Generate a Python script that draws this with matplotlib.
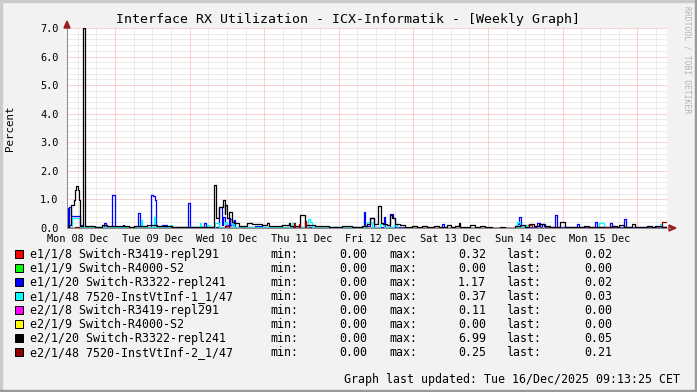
import matplotlib
matplotlib.use('Agg')
import matplotlib.pyplot as plt
from matplotlib.patches import Rectangle, Polygon
import numpy as np

# ---------------- data (hours since Mon 08 Dec 00:00) ----------------
T0, T1 = 8.55, 201.6

day_ticks = [24, 48, 72, 96, 120, 144, 168, 192]
label_pos = [12, 36, 60, 84, 108, 132, 156, 180]
day_labels = ["Mon 08 Dec", "Tue 09 Dec", "Wed 10 Dec", "Thu 11 Dec",
              "Fri 12 Dec", "Sat 13 Dec", "Sun 14 Dec", "Mon 15 Dec"]
y_ticks = [0, 1, 2, 3, 4, 5, 6, 7]
y_labels = ["0.0", "1.0", "2.0", "3.0", "4.0", "5.0", "6.0", "7.0"]

red_t = [8.55, 61.08, 61.73, 156.01, 158.16, 183.90, 184.54, 199.98]
red_v = [0.0, 0.32, 0.0, 0.10, 0.0, 0.08, 0.0, 0.02]

green_t = [8.55]
green_v = [0.0]

blue_t = [8.55, 8.78, 9.29, 9.84, 12.83, 13.70, 20.36, 21.19, 23.03, 24.0,
          26.57, 26.98, 31.39, 31.94, 35.57, 36.22, 36.76, 37.18, 39.11, 40.72,
          47.48, 48.22, 52.62, 53.17, 57.35, 58.41, 58.83, 59.38, 60.57, 61.08,
          62.18, 62.69, 64.20, 69.03, 71.28, 88.43, 89.94, 104.09, 104.51, 106.12,
          107.22, 110.44, 110.96, 112.56, 113.43, 114.17, 116.97, 129.21, 129.95, 153.34,
          154.08, 154.72, 159.77, 160.83, 161.38, 162.44, 165.66, 166.20, 172.64, 173.38,
          178.53, 179.07, 183.35, 183.90, 187.66, 188.40]
blue_v = [0.69, 0.05, 0.72, 0.42, 0.10, 0.03, 0.16, 0.03, 1.15, 0.03,
          0.10, 0.02, 0.53, 0.03, 1.17, 1.12, 0.98, 0.05, 0.10, 0.02,
          0.86, 0.02, 0.16, 0.03, 0.75, 0.10, 0.40, 0.10, 0.34, 0.10,
          0.28, 0.05, 0.02, 0.08, 0.03, 0.05, 0.02, 0.57, 0.08, 0.35,
          0.05, 0.40, 0.05, 0.48, 0.34, 0.05, 0.01, 0.14, 0.01, 0.13,
          0.40, 0.03, 0.16, 0.03, 0.13, 0.02, 0.45, 0.02, 0.13, 0.02,
          0.20, 0.03, 0.16, 0.03, 0.30, 0.02]

cyan_t = [8.55, 10.16, 12.31, 12.83, 13.70, 32.26, 32.68, 36.44, 36.96, 41.78,
          42.33, 51.24, 51.75, 53.59, 54.13, 56.26, 57.35, 59.28, 60.02, 61.63,
          62.18, 80.93, 81.48, 86.08, 86.82, 87.37, 105.06, 106.67, 109.34, 110.44,
          113.66, 114.72, 153.34, 154.40, 155.49, 156.55, 179.62, 181.23, 199.44, 199.98]
cyan_v = [0.02, 0.34, 0.36, 0.05, 0.02, 0.28, 0.02, 0.37, 0.03, 0.10,
          0.02, 0.16, 0.02, 0.10, 0.02, 0.16, 0.03, 0.22, 0.05, 0.18,
          0.02, 0.16, 0.03, 0.32, 0.22, 0.02, 0.20, 0.03, 0.13, 0.03,
          0.10, 0.01, 0.20, 0.05, 0.10, 0.01, 0.16, 0.01, 0.13, 0.03]

magenta_t = [8.55, 8.87, 9.52, 59.70, 60.18]
magenta_v = [0.0, 0.05, 0.0, 0.11, 0.0]

yellow_t = [8.55]
yellow_v = [0.0]

black_t = [8.55, 9.10, 9.84, 10.71, 11.22, 11.45, 12.09, 12.31, 12.64, 12.83,
           13.70, 14.34, 17.65, 19.81, 21.42, 25.70, 28.40, 30.01, 32.13, 34.29,
           35.35, 37.50, 39.11, 42.33, 45.55, 48.76, 55.94, 56.58, 57.35, 58.64,
           59.28, 59.48, 60.02, 60.57, 61.63, 62.18, 63.79, 66.46, 68.06, 71.28,
           72.89, 73.63, 74.50, 77.71, 79.87, 80.38, 83.60, 85.21, 88.43, 92.74,
           97.02, 100.23, 103.45, 105.06, 106.12, 107.22, 108.60, 109.67, 110.21, 111.50,
           112.56, 113.11, 114.17, 115.78, 117.39, 119.54, 121.15, 122.76, 124.37, 126.53,
           128.14, 130.81, 132.20, 133.48, 134.58, 135.09, 138.31, 139.92, 141.53, 143.14,
           145.29, 147.96, 149.57, 152.79, 154.40, 156.01, 157.10, 158.71, 160.32, 161.93,
           164.05, 165.66, 167.27, 168.68, 169.42, 174.79, 176.40, 176.92, 178.01, 183.90,
           185.50, 186.05, 187.66, 190.33, 191.39, 195.15, 196.76, 197.83, 199.98]
black_v = [0.05, 0.10, 0.80, 0.98, 1.33, 1.48, 1.33, 0.98, 0.30, 0.08,
           6.99, 0.07, 0.05, 0.10, 0.08, 0.07, 0.05, 0.07, 0.06, 0.10,
           0.12, 0.08, 0.08, 0.04, 0.05, 0.04, 1.50, 0.34, 0.75, 0.98,
           0.50, 0.80, 0.34, 0.55, 0.20, 0.16, 0.07, 0.16, 0.13, 0.10,
           0.16, 0.08, 0.07, 0.10, 0.16, 0.08, 0.45, 0.10, 0.07, 0.05,
           0.08, 0.05, 0.08, 0.13, 0.35, 0.13, 0.77, 0.16, 0.13, 0.10,
           0.45, 0.34, 0.13, 0.10, 0.05, 0.08, 0.02, 0.08, 0.02, 0.08,
           0.03, 0.10, 0.03, 0.08, 0.16, 0.02, 0.10, 0.05, 0.08, 0.02,
           0.00, 0.05, 0.01, 0.08, 0.10, 0.05, 0.13, 0.08, 0.13, 0.07,
           0.05, 0.02, 0.22, 0.05, 0.02, 0.08, 0.02, 0.05, 0.02, 0.08,
           0.03, 0.10, 0.02, 0.13, 0.04, 0.08, 0.04, 0.08, 0.05]

darkred_t = [8.55, 11.22, 12.31, 59.48, 60.57, 81.48, 81.99, 83.09, 83.60, 85.02,
             85.53, 181.74, 182.84, 199.98]
darkred_v = [0.01, 0.03, 0.01, 0.07, 0.01, 0.19, 0.01, 0.13, 0.01, 0.25,
             0.01, 0.05, 0.01, 0.21]

names = ["e1/1/8 Switch-R3419-repl291", "e1/1/9 Switch-R4000-S2",
         "e1/1/20 Switch-R3322-repl241", "e1/1/48 7520-InstVtInf-1_1/47",
         "e2/1/8 Switch-R3419-repl291", "e2/1/9 Switch-R4000-S2",
         "e2/1/20 Switch-R3322-repl241", "e2/1/48 7520-InstVtInf-2_1/47"]
colors = ["#FF0000", "#00FF00", "#0000FF", "#00FFFF",
          "#FF00FF", "#FFFF00", "#000000", "#8C0000"]
mins = ["0.00", "0.00", "0.00", "0.00", "0.00", "0.00", "0.00", "0.00"]
maxs = ["0.32", "0.00", "1.17", "0.37", "0.11", "0.00", "6.99", "0.25"]
lasts = ["0.02", "0.00", "0.02", "0.03", "0.00", "0.00", "0.05", "0.21"]

title = "Interface RX Utilization - ICX-Informatik - [Weekly Graph]"
ylabel = "Percent"
footer = "Graph last updated: Tue 16/Dec/2025 09:13:25 CET"
watermark = "RRDTOOL / TOBI OETIKER"

series = [(red_t, red_v), (green_t, green_v), (blue_t, blue_v), (cyan_t, cyan_v),
          (magenta_t, magenta_v), (yellow_t, yellow_v), (black_t, black_v),
          (darkred_t, darkred_v)]

# ---------------- drawing ----------------
W, H = 697, 392
MONO = "DejaVu Sans Mono"
fig = plt.figure(figsize=(W / 100, H / 100), dpi=100)
fig.patch.set_facecolor("#F2F2F2")

def fx(px):
    return px / W

def fy(py):
    return 1 - py / H

AX_L, AX_R, AX_T, AX_B = 67, 667, 28, 228
ax = fig.add_axes([fx(AX_L), fy(AX_B), (AX_R - AX_L) / W, (AX_B - AX_T) / H])
ax.set_facecolor("white")
ax.set_xlim(T0, T1)
ax.set_ylim(0, 7)

px = 0.72  # one pixel in points
grid_c = "#D9D9D9"
mgrid_c = "#F4A6A6"
dot = (0, (1, 1))
for h in np.arange(12, T1, 6):
    if h % 24 != 0:
        ax.axvline(h, color=grid_c, lw=px, ls=dot, zorder=1)
for yv in np.arange(0.2, 7.0, 0.2):
    if abs(yv - round(yv)) > 1e-6:
        ax.axhline(yv, color=grid_c, lw=px, ls=dot, zorder=1)
for h in day_ticks:
    ax.axvline(h, color=mgrid_c, lw=px, ls=dot, zorder=2)
for yv in y_ticks[1:]:
    ax.axhline(yv, color=mgrid_c, lw=px, ls=dot, zorder=2)

for (t, v), c in zip(series, colors):
    tt = np.append(np.array(t, float), T1)
    vv = np.append(np.array(v, float), v[-1])
    ax.step(tt, vv, where="post", color=c, lw=0.9, zorder=3)

for s in ["top", "right"]:
    ax.spines[s].set_visible(False)
ax.spines["left"].set_color("#8A8A8A")
ax.spines["bottom"].set_color("#8A8A8A")
ax.spines["left"].set_linewidth(px)
ax.spines["bottom"].set_linewidth(px)
ax.spines["left"].set_zorder(4)

ax.set_xticks(label_pos)
ax.set_xticklabels(day_labels, family=MONO, fontsize=7.4)
ax.set_yticks(y_ticks)
ax.set_yticklabels(y_labels, family=MONO, fontsize=7.4)
ax.tick_params(axis="both", length=0)
ax.tick_params(axis="x", pad=4)
ax.tick_params(axis="y", pad=6)

# arrows
arrow_c = "#9A1E1E"
fig.patches.append(Polygon([[fx(64), fy(28)], [fx(70), fy(28)], [fx(67), fy(21)]],
                           closed=True, transform=fig.transFigure, color=arrow_c))
fig.patches.append(Polygon([[fx(669), fy(225)], [fx(669), fy(231)], [fx(676), fy(228)]],
                           closed=True, transform=fig.transFigure, color=arrow_c))
fig.add_artist(plt.Line2D([fx(667), fx(670)], [fy(228), fy(228)], color="#8A8A8A",
                          lw=px, transform=fig.transFigure))

# title and labels
fig.text(fx(348), fy(19), title, family=MONO, fontsize=9.5, ha="center", va="center")
fig.text(fx(10), fy(128), ylabel, family=MONO, fontsize=7.8, ha="center", va="center",
         rotation=90)
fig.text(fx(687), fy(60), watermark, family=MONO, fontsize=5.8, ha="center", va="center",
         rotation=270, color="#B4B4B4")

# legend
row_y = [254.3, 268.3, 282.3, 296.3, 310.3, 324.3, 338.3, 352.3]
LF = 8.35
for i in range(8):
    y = row_y[i]
    fig.patches.append(Rectangle((fx(15), fy(y + 4)), 8 / W, 8 / H, transform=fig.transFigure,
                                 facecolor=colors[i], edgecolor="black", lw=px))
    fig.text(fx(30), fy(y), names[i], family=MONO, fontsize=LF, ha="left", va="center")
    fig.text(fx(270), fy(y), "min:", family=MONO, fontsize=LF, ha="left", va="center")
    fig.text(fx(367), fy(y), mins[i], family=MONO, fontsize=LF, ha="right", va="center")
    fig.text(fx(389), fy(y), "max:", family=MONO, fontsize=LF, ha="left", va="center")
    fig.text(fx(486), fy(y), maxs[i], family=MONO, fontsize=LF, ha="right", va="center")
    fig.text(fx(506), fy(y), "last:", family=MONO, fontsize=LF, ha="left", va="center")
    fig.text(fx(612), fy(y), lasts[i], family=MONO, fontsize=LF, ha="right", va="center")

fig.text(fx(680), fy(379), footer, family=MONO, fontsize=LF, ha="right", va="center")

# 3D frame
fig.patches.append(Rectangle((0, fy(2)), 1, 2 / H, transform=fig.transFigure, color="#CBCBCB"))
fig.patches.append(Rectangle((0, 0), 2 / W, 1, transform=fig.transFigure, color="#CBCBCB"))
fig.patches.append(Rectangle((0, 0), 1, 2 / H, transform=fig.transFigure, color="#999999"))
fig.patches.append(Rectangle((fx(695), 0), 2 / W, 1, transform=fig.transFigure, color="#999999"))

fig.savefig("out.png", dpi=100, facecolor=fig.get_facecolor())
